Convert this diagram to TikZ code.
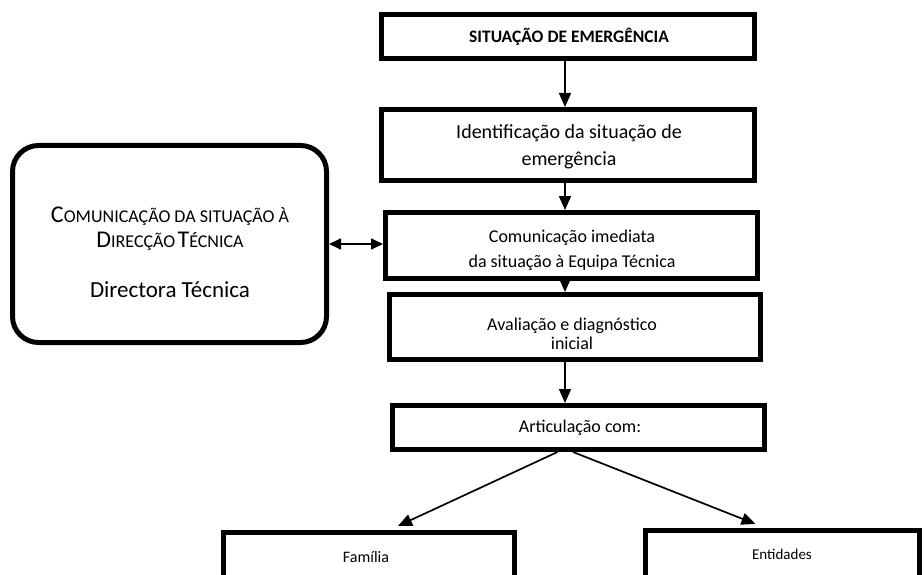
\documentclass[tikz,border=0pt]{standalone}
\usepackage{fontspec}
\setmainfont{Carlito}
\usetikzlibrary{arrows.meta}
\newcommand{\fsc}[2]{{\fontsize{24}{28}\selectfont #1}{\fontsize{18}{22}\selectfont #2}}
\begin{document}
\begin{tikzpicture}[x=1pt,y=-1pt,
  box/.style={draw, line width=5pt, rectangle, inner sep=0pt, align=center},
  txt/.style={inner sep=0pt, align=center},
  roundbox/.style={draw, line width=5pt, rectangle, rounded corners=26pt, inner sep=0pt},
  arr/.style={line width=1.7pt, -{Triangle[width=12pt,length=14pt]}},
  dblarr/.style={line width=1.7pt, {Triangle[width=11pt,length=12pt]}-{Triangle[width=11pt,length=12pt]}}]
\useasboundingbox (0,0) rectangle (924,575);
\clip (0,0) rectangle (924,575);
\fill[white] (0,0) rectangle (924,575);
\coordinate (ax) at (565,0);

% boxes
\node[box, minimum width=373pt, minimum height=44pt] (top) at (568,36.5) {};
\node[box, minimum width=373pt, minimum height=71pt] (id) at (568,145) {};
\node[box, minimum width=372pt, minimum height=66pt] (com) at (571.5,245.5) {};
\node[box, minimum width=371pt, minimum height=65pt] (aval) at (575,327) {};
\node[box, minimum width=372pt, minimum height=44pt] (art) at (578.5,427.5) {};
\node[box, minimum width=291pt, minimum height=49pt] (fam) at (369,557) {};
\node[box, minimum width=274pt, minimum height=49pt] (ent) at (782.5,555) {};
\node[roundbox, minimum width=314pt, minimum height=197pt] (dir) at (169.5,244) {};

% texts
\node[txt, font=\fontsize{17.5}{20}\selectfont\bfseries] (toptxt) at (569,37) {SITUAÇÃO DE EMERGÊNCIA};
\node[txt, font=\fontsize{20}{27}\selectfont] (idtxt) at (569,147) {Identificação da situação de\\emergência};
\node[txt, font=\fontsize{18}{25}\selectfont] (comtxt) at (572,250) {Comunicação imediata\\da situação à Equipa Técnica};
\node[txt, font=\fontsize{18}{19}\selectfont] (avaltxt) at (572,334) {Avaliação e diagnóstico\\inicial};
\node[txt, font=\fontsize{18}{21}\selectfont] (arttxt) at (580,428) {Articulação com:};
\node[txt, font=\fontsize{16}{18}\selectfont] (famtxt) at (366,557) {Família};
\node[txt, font=\fontsize{15}{18}\selectfont] (enttxt) at (782,554) {Entidades};
\node[txt] (dirtxt) at (170,252) {\fsc{C}{OMUNICAÇÃO DA SITUAÇÃO À}\\[6pt]\fsc{D}{IRECÇÃO} \fsc{T}{ÉCNICA}\\[30pt]{\fontsize{23}{26}\selectfont Directora Técnica}};

% connectors
\draw[arr] (top.south -| ax) -- (id.north -| ax);
\draw[arr] (id.south -| ax) -- (com.north -| ax);
\draw[arr] (com.south -| ax) -- (aval.north -| ax);
\draw[arr] (aval.south -| ax) -- (art.north -| ax);
\draw[arr] ([xshift=-21pt]art.south) -- ([xshift=29pt,yshift=4pt]fam.north);
\draw[arr] ([xshift=-5.5pt]art.south) -- ([xshift=-27pt,yshift=4pt]ent.north);
\draw[dblarr] (dir.east) -- (dir.east -| com.west);
\end{tikzpicture}
\end{document}
